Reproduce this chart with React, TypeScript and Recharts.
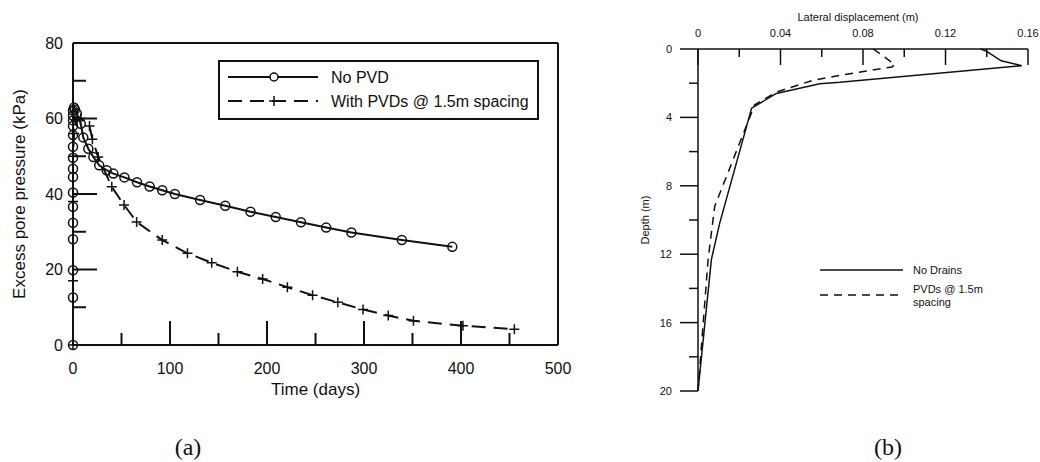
import { Legend, Line, LineChart, ReferenceLine, XAxis, YAxis } from 'recharts'

// (a) excess pore pressure vs time
const noPvdDays = [
  0, 0, 0, 0, 0, 0, 0, 0, 0, 0, 0, 0, 0, 0, 0, 0, 1, 2, 4, 8, 10.6, 15.8, 21, 27, 34.7, 41.6, 53,
  66, 79, 92, 105, 131, 157, 183, 209, 235, 261, 287, 339, 391,
]
const noPvdKpa = [
  0, 12.6, 19.8, 28, 32.4, 36.6, 40.4, 44.5, 46.7, 49.6, 52.5, 55.6, 58, 59.5, 60.8, 62.1, 62.9,
  62.4, 61.3, 58.6, 55, 52, 49.8, 47.6, 46.3, 45.4, 44.4, 43.1, 42, 41, 40, 38.4, 36.9, 35.3,
  33.9, 32.5, 31.1, 29.8, 27.8, 26,
]
const pvdDays = [
  0, 0, 0, 0, 1, 3, 8, 17, 20, 26, 40, 52.6, 65.6, 92, 118, 143, 169.5, 195.5, 221, 247, 273,
  299, 325, 351, 402, 455,
]
const pvdKpa = [
  0, 17, 38, 50, 56, 59.5, 60, 58, 54.5, 49.8, 41.9, 37.1, 32.6, 27.8, 24.3, 21.8, 19.4, 17.5,
  15.3, 13.2, 11.3, 9.4, 7.8, 6.4, 5.1, 4.2,
]
const timeTicks = [0, 50, 100, 150, 200, 250, 300, 350, 400, 450, 500]
const pressureTicks = [0, 10, 20, 30, 40, 50, 60, 70, 80]

// (b) lateral displacement vs depth
const noDrainsDisp = [0.137, 0.14, 0.147, 0.157, 0.0688, 0.059, 0.038, 0.026, 0.0105, 0.0065, 0]
const noDrainsDepth = [0, 0.14, 0.69, 0.98, 1.95, 2.03, 2.6, 3.46, 10.2, 12.3, 20]
const pvdDisp = [0.085, 0.0955, 0.094, 0.0688, 0.0557, 0.038, 0.0275, 0.0081, 0.0049, 0]
const pvdDepth = [0, 0.92, 1.05, 1.54, 1.83, 2.52, 3.26, 9.2, 12.3, 20]
const dispTicks = [0, 0.02, 0.04, 0.06, 0.08, 0.1, 0.12, 0.14, 0.16]
const depthTicks = [0, 2, 4, 6, 8, 10, 12, 14, 16, 18, 20]

const noPvd = noPvdDays.map((d, i) => ({ x: d, y: noPvdKpa[i] }))
const withPvd = pvdDays.map((d, i) => ({ x: d, y: pvdKpa[i] }))
const noDrains = noDrainsDisp.map((d, i) => ({ x: d, y: noDrainsDepth[i] }))
const pvdProfile = pvdDisp.map((d, i) => ({ x: d, y: pvdDepth[i] }))

const font = '"Liberation Sans", Arial, sans-serif'
const ink = '#111'

const PlusDot = (props: any) => {
  const { cx, cy, index } = props
  if (cx == null || cy == null) return <g key={index} />
  return (
    <path
      key={index}
      d={`M${cx - 5},${cy}H${cx + 5}M${cx},${cy - 5}V${cy + 5}`}
      stroke={ink}
      strokeWidth={1.5}
      fill="none"
    />
  )
}

const PressureTick = (props: any) => {
  const { x, y, payload } = props
  const major = payload.value % 20 === 0
  return (
    <g>
      <line x1={x} x2={x + (major ? 24 : 13)} y1={y} y2={y} stroke={ink} strokeWidth={2} />
      {major && (
        <text x={x - 10} y={y} dy="0.36em" textAnchor="end" fontSize={16} fill={ink}>
          {payload.value}
        </text>
      )}
    </g>
  )
}

const TimeTick = (props: any) => {
  const { x, y, payload } = props
  const major = payload.value % 100 === 0
  return (
    <g>
      <line x1={x} x2={x} y1={y} y2={y - (major ? 24 : 12)} stroke={ink} strokeWidth={2} />
      {major && (
        <text x={x} y={y + 23} dy="0.36em" textAnchor="middle" fontSize={16} fill={ink}>
          {payload.value}
        </text>
      )}
    </g>
  )
}

const DispTick = (props: any) => {
  const { x, y, payload } = props
  const major = Math.round(payload.value * 100) % 4 === 0
  return (
    <g>
      <line x1={x} x2={x} y1={y} y2={y + (major ? 16 : 8)} stroke={ink} strokeWidth={1.5} />
      {major && (
        <text x={x} y={y - 16} dy="0.36em" textAnchor="middle" fontSize={11} fill={ink}>
          {payload.value === 0 ? '0' : payload.value.toFixed(2)}
        </text>
      )}
    </g>
  )
}

const DepthTick = (props: any) => {
  const { x, y, payload } = props
  const major = payload.value % 4 === 0
  return (
    <g>
      <line x1={x} x2={x - (major ? 18 : 9)} y1={y} y2={y} stroke={ink} strokeWidth={1.5} />
      {major && (
        <text x={x - 26} y={y} dy="0.36em" textAnchor="end" fontSize={11} fill={ink}>
          {payload.value}
        </text>
      )}
    </g>
  )
}

function PressureLegend() {
  return (
    <div style={{ border: `2px solid ${ink}`, background: '#fff', width: 317, height: 56 }}>
      <svg width={317} height={56}>
        <line x1={8} x2={98} y1={15} y2={15} stroke={ink} strokeWidth={2} />
        <circle cx={54} cy={15} r={4} fill="#fff" stroke={ink} strokeWidth={1.5} />
        <text x={111} y={15} dy="0.36em" fontSize={16} fill={ink}>No PVD</text>
        <line x1={8} x2={98} y1={39} y2={39} stroke={ink} strokeWidth={2} strokeDasharray="14 8" />
        <path d="M49,39H59M54,34V44" stroke={ink} strokeWidth={1.5} />
        <text x={111} y={39} dy="0.36em" fontSize={16} fill={ink}>With PVDs @ 1.5m spacing</text>
      </svg>
    </div>
  )
}

function ProfileLegend() {
  return (
    <svg width={200} height={60}>
      <line x1={0} x2={83} y1={10} y2={10} stroke={ink} strokeWidth={1.5} />
      <text x={93} y={10} dy="0.36em" fontSize={11} fill={ink}>No Drains</text>
      <line x1={0} x2={83} y1={35} y2={35} stroke={ink} strokeWidth={1.5} strokeDasharray="8 6" />
      <text x={93} y={29} dy="0.36em" fontSize={11} fill={ink}>PVDs @ 1.5m</text>
      <text x={93} y={42} dy="0.36em" fontSize={11} fill={ink}>spacing</text>
    </svg>
  )
}

export function PressureChart() {
  return (
    <LineChart
      width={600}
      height={400}
      margin={{ top: 43, right: 42, bottom: 0, left: 0 }}
      style={{ fontFamily: font }}
    >
      <XAxis
        dataKey="x"
        type="number"
        domain={[0, 500]}
        ticks={timeTicks}
        interval={0}
        height={55}
        tickSize={0}
        tickMargin={0}
        tick={TimeTick}
        axisLine={{ stroke: ink, strokeWidth: 2 }}
        label={(p: any) => {
          const v = p.viewBox
          return (
            <text x={v.x + v.width / 2} y={389} dy="0.36em" textAnchor="middle" fontSize={17} fill={ink}>
              Time (days)
            </text>
          )
        }}
      />
      <YAxis
        dataKey="y"
        type="number"
        domain={[0, 80]}
        ticks={pressureTicks}
        interval={0}
        width={73}
        tickSize={0}
        tickMargin={0}
        tick={PressureTick}
        axisLine={{ stroke: ink, strokeWidth: 2 }}
        label={(p: any) => {
          const v = p.viewBox
          const cy = v.y + v.height / 2
          return (
            <text
              x={19}
              y={cy}
              dy="0.36em"
              textAnchor="middle"
              fontSize={17}
              fill={ink}
              transform={`rotate(-90 19 ${cy})`}
            >
              Excess pore pressure (kPa)
            </text>
          )
        }}
      />
      <ReferenceLine y={80} stroke={ink} strokeWidth={2} />
      <ReferenceLine x={500} stroke={ink} strokeWidth={2} />
      <Legend
        layout="vertical"
        align="center"
        verticalAlign="middle"
        content={() => <PressureLegend />}
        wrapperStyle={{ left: 218, top: 60, width: 321, height: 60, bottom: 'auto' }}
      />
      <Line
        data={noPvd}
        dataKey="y"
        name="No PVD"
        stroke={ink}
        strokeWidth={2}
        dot={{ r: 4.5, fill: 'none', stroke: ink, strokeWidth: 1.5 }}
        isAnimationActive={false}
      />
      <Line
        data={withPvd}
        dataKey="y"
        name="With PVDs @ 1.5m spacing"
        stroke={ink}
        strokeWidth={2}
        strokeDasharray="14 8"
        dot={PlusDot}
        isAnimationActive={false}
      />
    </LineChart>
  )
}

export function ProfileChart() {
  return (
    <LineChart
      width={420}
      height={462}
      margin={{ top: 0, right: 12, bottom: 71, left: 0 }}
      style={{ fontFamily: font }}
    >
      <XAxis
        dataKey="x"
        type="number"
        orientation="top"
        domain={[0, 0.16]}
        ticks={dispTicks}
        interval={0}
        height={49}
        tickSize={0}
        tickMargin={0}
        tick={DispTick}
        axisLine={{ stroke: ink, strokeWidth: 1.5 }}
        label={(p: any) => {
          const v = p.viewBox
          return (
            <text x={v.x + v.width / 2 - 5} y={17} dy="0.36em" textAnchor="middle" fontSize={11} fill={ink}>
              Lateral displacement (m)
            </text>
          )
        }}
      />
      <YAxis
        dataKey="y"
        type="number"
        reversed
        domain={[0, 20]}
        ticks={depthTicks}
        interval={0}
        width={78}
        tickSize={0}
        tickMargin={0}
        tick={DepthTick}
        axisLine={{ stroke: ink, strokeWidth: 1.5 }}
        label={() => {
          const cy = 220
          return (
            <text
              x={25}
              y={cy}
              dy="0.36em"
              textAnchor="middle"
              fontSize={11}
              fill={ink}
              transform={`rotate(-90 25 ${cy})`}
            >
              Depth (m)
            </text>
          )
        }}
      />
      <Legend
        layout="vertical"
        align="center"
        verticalAlign="middle"
        content={() => <ProfileLegend />}
        wrapperStyle={{ left: 200, top: 260, width: 200, height: 60, bottom: 'auto' }}
      />
      <Line
        data={noDrains}
        dataKey="y"
        name="No Drains"
        stroke={ink}
        strokeWidth={1.5}
        dot={false}
        isAnimationActive={false}
      />
      <Line
        data={pvdProfile}
        dataKey="y"
        name="PVDs @ 1.5m spacing"
        stroke={ink}
        strokeWidth={1.5}
        strokeDasharray="8 6"
        dot={false}
        isAnimationActive={false}
      />
    </LineChart>
  )
}

const caption = {
  position: 'absolute' as const,
  top: 432,
  fontFamily: '"Liberation Serif", "Times New Roman", serif',
  fontSize: 24,
  lineHeight: '30px',
  color: ink,
  width: 60,
  textAlign: 'center' as const,
}

export default function App() {
  return (
    <div style={{ position: 'absolute', left: 0, top: 0, width: 1040, height: 462, background: '#fff' }}>
      <div style={{ position: 'absolute', left: 0, top: 0 }}>
        <PressureChart />
      </div>
      <div style={{ position: 'absolute', left: 620, top: 0 }}>
        <ProfileChart />
      </div>
      <div style={{ ...caption, left: 158 }}>(a)</div>
      <div style={{ ...caption, left: 858 }}>(b)</div>
    </div>
  )
}
